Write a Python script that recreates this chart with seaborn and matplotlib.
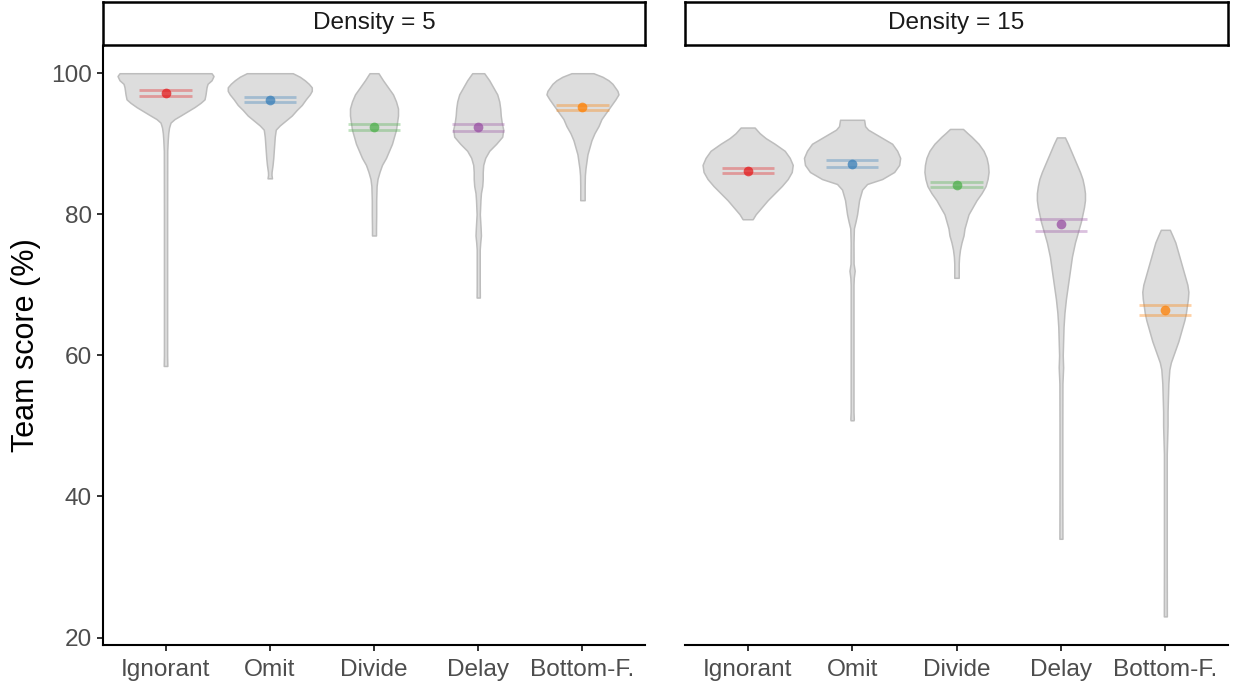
import numpy as np
import pandas as pd
import matplotlib
matplotlib.use("Agg")
import matplotlib.pyplot as plt
import seaborn as sns

# ---------------- data ----------------
categories = ["Ignorant", "Omit", "Divide", "Delay", "Bottom-F."]
densities = [5, 15]

# mean team score and the two horizontal (interval) lines per strategy
mean_d5 = [97.2, 96.25, 92.35, 92.35, 95.15]
lo_d5 = [96.8, 95.9, 91.95, 91.85, 94.8]
hi_d5 = [97.6, 96.6, 92.75, 92.85, 95.5]
mean_d15 = [86.2, 87.2, 84.2, 78.6, 66.4]
lo_d15 = [85.85, 86.65, 83.8, 77.7, 65.7]
hi_d15 = [86.55, 87.7, 84.6, 79.4, 67.1]

# violin profiles: score values and half-widths (density, in px of the reference)
ign5_y = [100, 99.6, 99.0, 98.5, 98.0, 97.0, 96.3, 95.8, 95.2, 94.6, 94.0, 93.5, 93.0, 92.3, 91.5, 90.5, 89, 80, 70, 60, 58.5]
ign5_w = [46, 48, 46, 42, 41, 40, 39, 35, 29, 22, 15, 9, 5, 3.5, 2.7, 2.2, 1.7, 1.6, 1.6, 1.6, 1.8]
omit5_y = [100, 99.5, 99.0, 98.5, 98.0, 97.5, 97.0, 96.3, 95.5, 94.8, 94.0, 93.3, 92.6, 92.0, 91.0, 90.0, 89.0, 88.0, 87.0, 86.0, 85.6, 85.1]
omit5_w = [23, 30, 35, 39, 42, 42, 40, 36, 32, 27, 22, 16, 10, 6, 5, 4.5, 4, 3.5, 2.8, 1.8, 1.7, 2.2]
div5_y = [100, 99, 98, 97, 96, 95, 94, 93, 92, 91, 90, 89, 88, 87, 86, 85, 84, 82, 80, 78, 77]
div5_w = [4.5, 9, 14, 19, 22, 24, 24, 23, 22, 20, 18, 15, 12, 8, 5.5, 3.5, 2.6, 2.2, 2.2, 2.0, 2.0]
del5_y = [100, 99, 98, 97, 96, 95, 94, 93, 92, 91, 90, 89, 88, 87, 86, 85, 84, 83, 82, 80, 78, 77, 76, 75, 72, 70, 68.2]
del5_w = [6, 11, 15, 19, 21, 22, 22.5, 23.5, 25, 24, 18, 11, 7, 5, 4.5, 4.5, 4, 2.7, 2.2, 1.6, 2.4, 2.7, 2.0, 1.5, 1.5, 1.5, 1.6]
bf5_y = [100, 99.5, 99, 98.5, 97.5, 97, 96.3, 95.5, 94.5, 93.5, 92.5, 91.5, 90.5, 89.5, 88.5, 87.5, 86.5, 85.5, 84, 82]
bf5_w = [11, 20, 26, 30, 35, 36, 33, 29, 24, 19, 16, 12, 9, 7, 5, 4, 3, 2.4, 2.2, 2.2]

ign15_y = [92.3, 91.5, 90.8, 90, 89, 88, 87, 86, 85, 84, 83, 82, 81, 80, 79.3]
ign15_w = [7, 12, 18, 27, 37, 42, 45, 44, 40, 34, 27, 20, 14, 8, 5]
omit15_y = [93.4, 92.5, 92, 91, 90, 89, 88, 87, 86, 85, 84.3, 83.5, 82, 80, 79, 78, 76, 73, 72, 71, 70, 60, 52, 51, 50.8]
omit15_w = [12, 13, 16, 28, 40, 45, 48, 47, 42, 30, 15, 10, 7, 5, 3.5, 1.8, 1.4, 1.5, 2.6, 1.7, 1.4, 1.4, 1.4, 1.7, 1.5]
div15_y = [92.1, 91.5, 91, 90, 89, 88, 87, 86, 85, 84, 83, 82, 81, 80, 79, 78, 77, 76, 75, 74, 73, 71]
div15_w = [6.5, 11, 15, 22, 27, 30, 31.5, 32, 31, 29, 25, 20, 16, 12, 10, 8, 7, 5, 3.5, 2.6, 2.2, 2.2]
del15_y = [90.9, 90, 89, 88, 87, 86, 85, 84, 83, 82, 81, 80, 79, 78, 77, 76, 75, 74, 72, 70, 68, 66, 64, 62, 60, 58.3, 56, 50, 40, 34]
del15_w = [4, 7, 10, 13, 16, 19, 21.5, 23, 24, 24, 23, 21.5, 20, 18, 16, 14, 12.5, 11, 9, 7, 5, 3.5, 2.6, 2.2, 1.8, 2.2, 1.5, 1.4, 1.4, 1.5]
bf15_y = [77.8, 77, 76, 75, 74, 73, 72, 71, 70, 69, 68, 67, 66, 65, 64, 63, 62, 61, 60, 59, 58, 56, 54, 52, 50, 48, 46, 40, 30, 23]
bf15_w = [4.5, 7, 10, 12, 14, 16, 18, 20, 22, 23, 22.5, 21.5, 20.5, 19, 17, 15, 13, 10.5, 8, 5.5, 4, 3, 2.6, 2.2, 2.2, 1.8, 1.4, 1.4, 1.4, 1.5]

profiles = {
    5: [(ign5_y, ign5_w), (omit5_y, omit5_w), (div5_y, div5_w), (del5_y, del5_w), (bf5_y, bf5_w)],
    15: [(ign15_y, ign15_w), (omit15_y, omit15_w), (div15_y, div15_w), (del15_y, del15_w), (bf15_y, bf15_w)],
}

summary = pd.DataFrame({
    "density": np.repeat(densities, len(categories)),
    "strategy": categories * 2,
    "mean": mean_d5 + mean_d15,
    "lo": lo_d5 + lo_d15,
    "hi": hi_d5 + hi_d15,
})

# ---------------- style ----------------
sns.set_theme(style="ticks")
plt.rcParams["font.family"] = ["Liberation Sans", "DejaVu Sans"]
palette = dict(zip(categories, sns.color_palette("Set1", 5)))

W, H = 1233, 688
fig = plt.figure(figsize=(W / 100, H / 100), dpi=100)
fig.patch.set_facecolor("white")

panel_px = {5: (103, 645), 15: (685, 1228)}
top_px, bot_px = 46, 645
px_per_cat = 542 / 5.2  # reference pixel scale for violin widths

for d in densities:
    x0, x1 = panel_px[d]
    ax = fig.add_axes([x0 / W, 1 - bot_px / H, (x1 - x0) / W, (bot_px - top_px) / H])
    sub = summary[summary["density"] == d]

    # violins
    for i, (yy, ww) in enumerate(profiles[d]):
        yy = np.asarray(yy, float)
        ww = np.asarray(ww, float) / px_per_cat
        ax.fill_betweenx(yy, i - ww, i + ww, facecolor="#DDDDDD",
                         edgecolor="#BDBDBD", linewidth=1.1, zorder=1)

    # interval lines
    for i, row in enumerate(sub.itertuples()):
        c = palette[row.strategy]
        ax.hlines([row.lo, row.hi], i - 0.25, i + 0.25, colors=[c], alpha=0.35,
                  linewidth=2.0, zorder=2)

    # mean points
    sns.pointplot(data=sub, x="strategy", y="mean", hue="strategy", order=categories,
                  hue_order=categories, palette=palette, linestyle="none", markers="o",
                  errorbar=None, legend=False, dodge=False, ax=ax,
                  markersize=7.0, markeredgewidth=0, alpha=0.75, zorder=3)

    ax.set_xlim(-0.6, 4.6)
    ax.set_ylim(18.94, 103.86)
    ax.set_yticks([20, 40, 60, 80, 100])
    ax.set_xlabel("")
    for s in ["top", "right"]:
        ax.spines[s].set_visible(False)
    ax.spines["bottom"].set_linewidth(1.5)
    ax.spines["bottom"].set_color("black")
    ax.tick_params(axis="both", length=4, width=1.4, color="#333333",
                   labelsize=17.6, labelcolor="#4D4D4D")
    ax.tick_params(axis="x", pad=6)
    ax.tick_params(axis="y", pad=4)
    if d == 5:
        ax.spines["left"].set_linewidth(1.5)
        ax.spines["left"].set_color("black")
        ax.set_ylabel("Team score (%)", fontsize=22, color="black", labelpad=7)
    else:
        ax.spines["left"].set_visible(False)
        ax.tick_params(axis="y", left=False, labelleft=False)
        ax.set_ylabel("")
    ax.set_facecolor("white")

    # strip
    sax = fig.add_axes([x0 / W, 1 - 45 / H, (x1 - x0) / W, 43 / H])
    sax.set_xticks([])
    sax.set_yticks([])
    sax.set_facecolor("white")
    for s in sax.spines.values():
        s.set_visible(True)
        s.set_linewidth(1.8)
        s.set_color("black")
    sax.text(0.5, 0.5, f"Density = {d}", ha="center", va="center",
             fontsize=17.6, color="#1A1A1A", transform=sax.transAxes)

fig.savefig("out.png", dpi=100, facecolor="white")
